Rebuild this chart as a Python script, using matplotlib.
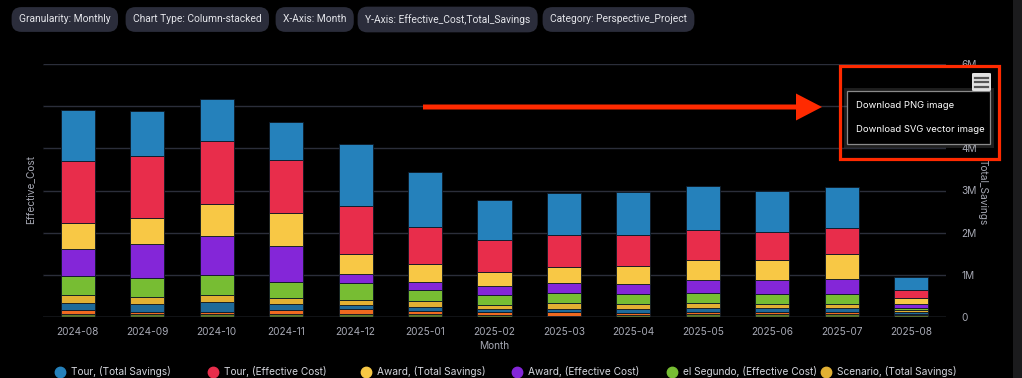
import matplotlib
matplotlib.use("Agg")
from matplotlib import pyplot as plt
from matplotlib.patches import Rectangle, Polygon, FancyBboxPatch
from matplotlib.lines import Line2D
import numpy as np

plt.rcParams['font.family'] = ['Inter', 'DejaVu Sans']

months = ['2024-08', '2024-09', '2024-10', '2024-11', '2024-12', '2025-01', '2025-02',
          '2025-03', '2025-04', '2025-05', '2025-06', '2025-07', '2025-08']

# values in millions, legend order (top of stack first)
tour_savings = [1.22, 1.06, 1.005, 0.89, 1.46, 1.32, 0.955, 1.0, 1.03, 1.05, 0.965, 0.97, 0.31]
tour_cost = [1.46, 1.48, 1.49, 1.27, 1.14, 0.86, 0.77, 0.76, 0.73, 0.72, 0.665, 0.615, 0.2]
award_savings = [0.62, 0.62, 0.76, 0.765, 0.47, 0.435, 0.33, 0.38, 0.41, 0.475, 0.49, 0.59, 0.14]
award_cost = [0.64, 0.79, 0.93, 0.865, 0.23, 0.2, 0.205, 0.23, 0.25, 0.3, 0.33, 0.37, 0.088]
segundo_cost = [0.46, 0.46, 0.474, 0.38, 0.38, 0.25, 0.24, 0.24, 0.24, 0.24, 0.22, 0.22, 0.055]
scenario_savings = [0.17, 0.155, 0.16, 0.13, 0.135, 0.15, 0.095, 0.125, 0.12, 0.125, 0.11, 0.11, 0.047]
# small series below, their legend entries are cut off in the screenshot
other_blue = [0.175, 0.2, 0.237, 0.15, 0.095, 0.095, 0.08, 0.07, 0.08, 0.08, 0.08, 0.08, 0.03]
other_orange = [0.085, 0.04, 0.04, 0.085, 0.12, 0.07, 0.057, 0.095, 0.064, 0.057, 0.064, 0.057, 0.033]
other_olive = [0.08, 0.08, 0.08, 0.08, 0.065, 0.065, 0.05, 0.035, 0.04, 0.07, 0.065, 0.07, 0.047]

series_names = ['Tour, (Total Savings)', 'Tour, (Effective Cost)', 'Award, (Total Savings)',
                'Award, (Effective Cost)', 'el Segundo, (Effective Cost)', 'Scenario, (Total Savings)',
                None, None, None]
series_values = [tour_savings, tour_cost, award_savings, award_cost, segundo_cost,
                 scenario_savings, other_blue, other_orange, other_olive]
colors = ['#2581bb', '#e82d4b', '#f8c845', '#8426d8', '#77bd33', '#e2b033',
          '#1f6a99', '#ef6a20', '#5f7b2a']

pills = ['Granularity: Monthly', 'Chart Type: Column-stacked', 'X-Axis: Month',
         'Y-Axis: Effective_Cost,Total_Savings', 'Category: Perspective_Project']

W, H = 1022, 378
fig = plt.figure(figsize=(W / 100, H / 100), dpi=100, facecolor='black')


def fx(x):
    return x / W


def fy(y):
    return 1 - y / H


ax = fig.add_axes([fx(43), fy(317), fx(946) - fx(43), fy(64) - fy(317)])
ax.set_facecolor('black')
x = np.arange(len(months))
bottom = np.zeros(len(months))
for vals, col in zip(series_values[::-1], colors[::-1]):
    v = np.array(vals) * 1e6
    ax.bar(x, v, bottom=bottom, width=0.49, color=col, edgecolor='#0e1824', linewidth=0.6, zorder=3)
    bottom += v

ax.set_xlim(-0.5, len(months) - 0.5)
ax.set_ylim(0, 6e6)
ax.set_yticks(np.arange(0, 7e6, 1e6))
ax.grid(axis='y', color='#2b2e3a', linewidth=1, zorder=0)
ax.tick_params(axis='y', left=False, labelleft=False)
ax.set_xticks(x)
ax.set_xticklabels(months, color='#a6a8b3', fontsize=7.3)
ax.tick_params(axis='x', length=0, pad=7)
for s in ax.spines.values():
    s.set_visible(False)
ax.axhline(0, color='#3a3d48', linewidth=1, zorder=4)

ax2 = ax.twinx()
ax2.set_ylim(0, 6e6)
ax2.set_yticks(np.arange(0, 7e6, 1e6))
ax2.set_yticklabels(['0', '1M', '2M', '3M', '4M', '5M', '6M'], color='#a6a8b3', fontsize=7.3)
ax2.tick_params(axis='y', length=0, pad=11)
for s in ax2.spines.values():
    s.set_visible(False)

fig.text(fx(30), fy(190), 'Effective_Cost', rotation=90, ha='center', va='center',
         color='#a6a8b3', fontsize=7.3)
fig.text(fx(983), fy(192), 'Total_Savings', rotation=-90, ha='center', va='center',
         color='#a6a8b3', fontsize=7.3)
fig.text(fx(494), fy(346), 'Month', ha='center', va='center', color='#a6a8b3', fontsize=7.3)

# filter pills
pill_left = [10, 124, 274, 356, 541]
for left, label in zip(pill_left, pills):
    fig.text(fx(left + 9), fy(19.5), label, ha='left', va='center', color='#e4e5ea',
             fontsize=7.4, family=['Roboto', 'DejaVu Sans'],
             bbox=dict(boxstyle='round,pad=0.72,rounding_size=0.95', fc='#2b2d3b', ec='none'))

# legend row (partly cut at the bottom)
legend_x = [60, 213, 366, 517, 672, 826]
for lx, name, col in zip(legend_x, series_names, colors):
    fig.add_artist(Line2D([fx(lx)], [fy(371.5)], marker='o', markersize=7.5, color=col,
                          transform=fig.transFigure, linestyle='none'))
    fig.text(fx(lx + 11), fy(371.5), name, ha='left', va='center', color='#d4d5dc', fontsize=7.3)

# red arrow annotation
arrow = [(423, 104.5), (796, 104.5), (796, 93.5), (822, 107), (796, 120.5), (796, 109.5), (423, 109.5)]
fig.add_artist(Polygon([(fx(a), fy(b)) for a, b in arrow], closed=True, fc='#ff2a00', ec='none',
                       transform=fig.transFigure, zorder=10))

# export menu
fig.add_artist(Rectangle((fx(847), fy(144)), fx(990) - fx(847), fy(91) - fy(144),
                         transform=fig.transFigure, fc='none', ec='#ffffff', lw=5, alpha=0.12, zorder=10))
fig.add_artist(Rectangle((fx(847), fy(144)), fx(990) - fx(847), fy(91) - fy(144),
                         transform=fig.transFigure, fc='black', ec='#8a8a8a', lw=0.9, zorder=11))
fig.text(fx(856), fy(106), 'Download PNG image', ha='left', va='center', color='white',
         fontsize=6.8, zorder=12)
fig.text(fx(856), fy(129), 'Download SVG vector image', ha='left', va='center', color='white',
         fontsize=6.8, zorder=12)
fig.add_artist(FancyBboxPatch((fx(972), fy(91)), fx(991) - fx(972), fy(73) - fy(91),
                              boxstyle='round,pad=0,rounding_size=0.002', transform=fig.transFigure,
                              fc='#e2e2e2', ec='none', zorder=12))
for ly in [77.5, 82, 86.5]:
    fig.add_artist(Line2D([fx(975), fx(988)], [fy(ly), fy(ly)], color='#555555', lw=1.6,
                          transform=fig.transFigure, zorder=13))
fig.add_artist(Rectangle((fx(840), fy(159)), fx(999) - fx(840), fy(66) - fy(159),
                         transform=fig.transFigure, fc='none', ec='#ff2a00', lw=2.3, zorder=14))

# scrollbar strip at the right edge
fig.add_artist(Rectangle((fx(1013), 0), fx(9), 1, transform=fig.transFigure, fc='#1b1b1d',
                         ec='none', zorder=1))

fig.savefig('out.png', dpi=100, facecolor='black')
